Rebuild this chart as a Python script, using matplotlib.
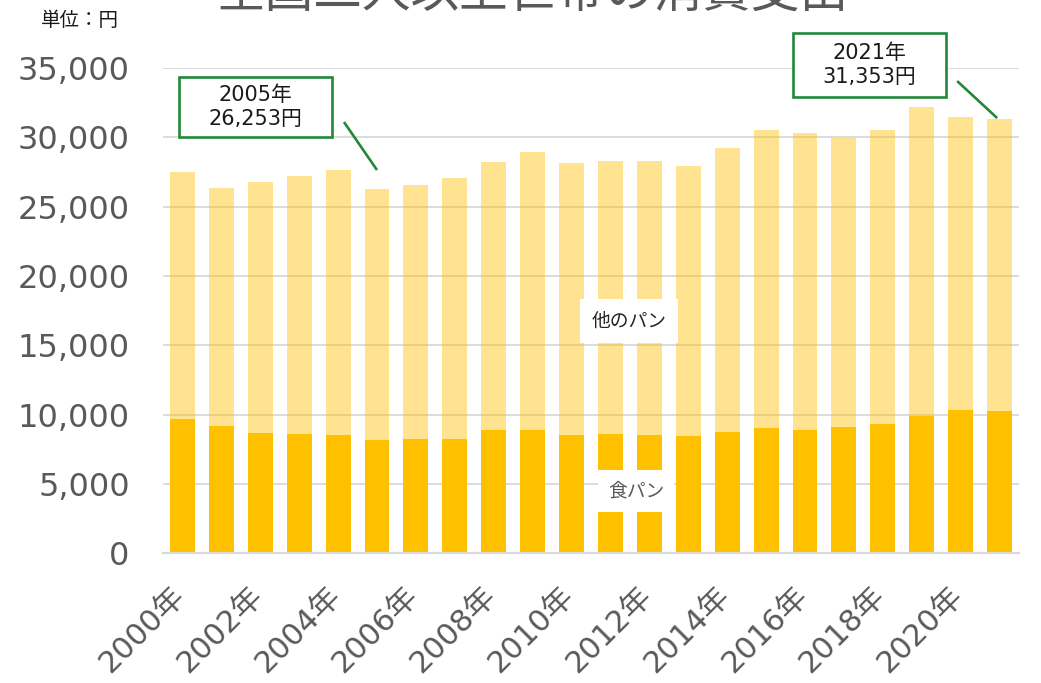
import matplotlib
matplotlib.use('Agg')
import matplotlib.pyplot as plt
from matplotlib.patches import Rectangle
from matplotlib.ticker import FuncFormatter
from matplotlib.transforms import ScaledTranslation

# ---- data ----
years = list(range(2000, 2022))
shokupan = [9660, 9180, 8670, 8600, 8530, 8190, 8240, 8240, 8870, 8910, 8530,
            8600, 8510, 8460, 8750, 9010, 8890, 9110, 9320, 9900, 10310, 10240]
total = [27500, 26340, 26760, 27210, 27620, 26253, 26560, 27090, 28220, 28940, 28170,
         28290, 28280, 27950, 29230, 30530, 30310, 29970, 30550, 32160, 31460, 31353]
other = [t - s for t, s in zip(total, shokupan)]
xtick_years = years[::2]
xtick_labels = [f'{y}年' for y in xtick_years]
yticks = [0, 5000, 10000, 15000, 20000, 25000, 30000, 35000]

title = '全国二人以上世帯の消費支出'
unit_label = '単位：円'
series_labels = ['食パン', '他のパン']
callouts = [(2005, '2005年\n26,253円'), (2021, '2021年\n31,353円')]

JP = 'Noto Sans CJK JP'
MIX = ['DejaVu Sans', 'Noto Sans CJK JP']
GRAY = '#595959'
GREEN = '#23873A'

fig = plt.figure(figsize=(10.41, 6.83), dpi=100)
W, H = 1041, 683
ax = fig.add_axes([163 / W, 1 - 553.3 / H, (1019 - 163) / W, (553.3 - 68) / H])

x = list(range(len(years)))
ax.bar(x, shokupan, width=0.64, color='#FFC000', zorder=2)
ax.bar(x, other, bottom=shokupan, width=0.64, color='#FFC000', alpha=0.43, zorder=2)

ax.set_xlim(-0.5, len(years) - 0.5)
ax.set_ylim(0, 35000)
ax.set_yticks(yticks)
ax.yaxis.set_major_formatter(FuncFormatter(lambda v, p: f'{int(v):,}'))
ax.set_axisbelow(True)
ax.yaxis.grid(True, color='#D9D9D9', lw=1.3, zorder=1)
for s in ['top', 'right', 'left']:
    ax.spines[s].set_visible(False)
ax.spines['bottom'].set_color('#D9D9D9')
ax.spines['bottom'].set_linewidth(1.6)
ax.tick_params(axis='both', length=0)
ax.tick_params(axis='y', pad=24, labelsize=23, labelcolor=GRAY)
for t in ax.get_yticklabels():
    t.set_family(MIX)

xt = [years.index(y) for y in xtick_years]
ax.set_xticks(xt)
ax.set_xticklabels(xtick_labels, rotation=45, ha='right', va='top',
                   rotation_mode='anchor', fontsize=22, color=GRAY, family=MIX)
ax.tick_params(axis='x', pad=20)
shift = ScaledTranslation(-12 / 100, 0, fig.dpi_scale_trans)
for t in ax.get_xticklabels():
    t.set_transform(t.get_transform() + shift)

# data-unit conversion helpers (from pixel layout)
def dx(px):
    return (px - 182.5) / 38.9

def dy(py):
    return (553.3 - py) / 13.867 * 1000

# series labels
ax.text(dx(636), dy(491), series_labels[0], ha='center', va='center', fontsize=13.5,
        color=GRAY, family=JP, zorder=5,
        bbox=dict(boxstyle='square,pad=0.55', fc='white', ec='none'))
ax.text(dx(629), dy(321), series_labels[1], ha='center', va='center', fontsize=13.5,
        color='#262626', family=JP, zorder=5,
        bbox=dict(boxstyle='square,pad=0.6', fc='white', ec='none'))

# callouts
boxes = [((179, 77, 332, 137), (344, 122, 377, 170)),
         ((793, 33, 946, 97), (957, 81, 997, 118))]
for (yr, txt), (b, l) in zip(callouts, boxes):
    x0, y0, x1, y1 = b
    r = Rectangle((dx(x0), dy(y1)), dx(x1) - dx(x0), dy(y0) - dy(y1), fc='white',
                  ec=GREEN, lw=1.9, zorder=6, clip_on=False)
    ax.add_patch(r)
    ax.text((dx(x0) + dx(x1)) / 2, (dy(y0) + dy(y1)) / 2, txt, ha='center', va='center',
            fontsize=15, color='#1a1a1a', family=MIX, linespacing=1.25, zorder=7,
            clip_on=False)
    ax.plot([dx(l[0]), dx(l[2])], [dy(l[1]), dy(l[3])], color=GREEN, lw=1.9,
            zorder=6, clip_on=False, solid_capstyle='butt')

fig.text(80 / W, 1 - 21 / H, unit_label, ha='center', va='center', fontsize=14,
         color='#1a1a1a', family=JP)
fig.text(532 / W, 1 + 7 / H, title, ha='center', va='center', fontsize=35,
         color=GRAY, family=JP)

fig.savefig('out.png', dpi=100)
